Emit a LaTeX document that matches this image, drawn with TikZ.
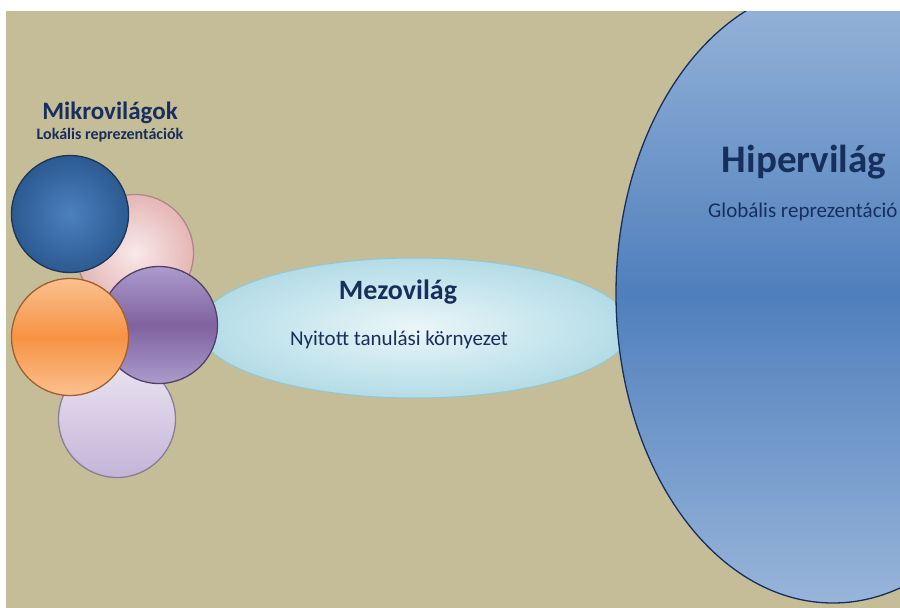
\documentclass[tikz,border=0pt]{standalone}
\usepackage{fontspec}
\setmainfont{Carlito}
\usepackage{tikz}
\usetikzlibrary{positioning, shapes.geometric}

\definecolor{slidebg}{HTML}{C5BD97}
\definecolor{titlenavy}{HTML}{172F5C}
\definecolor{hyperlight}{HTML}{98B5DA}
\definecolor{hypermid}{HTML}{4F7FBC}
\definecolor{mesolight}{HTML}{EAF6F8}
\definecolor{mesoedge}{HTML}{B3DCE7}
\definecolor{bluein}{HTML}{4C80BE}
\definecolor{blueout}{HTML}{2C5A91}
\definecolor{pinkin}{HTML}{F8E9E8}
\definecolor{pinkout}{HTML}{E5B6B5}
\definecolor{purplelight}{HTML}{AC9BCB}
\definecolor{purplemid}{HTML}{7F62A0}
\definecolor{orangelight}{HTML}{FBC08E}
\definecolor{orangemid}{HTML}{F69344}
\definecolor{lavlight}{HTML}{EAE4F1}
\definecolor{lavdark}{HTML}{C3B4D8}
\tikzset{
    world/.style={circle, inner sep=0pt, minimum size=117pt, line width=1.3pt},
    title/.style={text=titlenavy, font=\bfseries, inner sep=0pt},
    subtitle/.style={text=titlenavy, inner sep=0pt}
}

\begin{document}
\begin{tikzpicture}[x=1pt, y=-1pt]
    \useasboundingbox (0,0) rectangle (900,608);
    \fill[white] (0,0) rectangle (900,608);
    \begin{scope}
        \clip (6,11) rectangle (900,608);
        \fill[slidebg] (6,11) rectangle (900,608);

        % meso world
        \node[ellipse, minimum width=432pt, minimum height=140pt, line width=1pt,
              draw=mesoedge!80!teal, inner color=mesolight, outer color=mesoedge]
            (meso) at (415,328) {};

        % hyper world
        \node[ellipse, minimum width=434pt, minimum height=618pt, line width=1.3pt,
              draw=titlenavy, top color=hyperlight, bottom color=hyperlight, middle color=hypermid]
            (hyper) at (833,294) {};

        % micro worlds
        \node[world, draw=lavdark!70!black, shading angle=45,
              top color=lavlight, bottom color=lavdark] (lavender) at (117,419) {};
        \node[world, draw=pinkout!75!black, inner color=pinkin, outer color=pinkout]
            (pink) at (135,253) {};
        \node[world, draw=blueout!60!black, inner color=bluein, outer color=blueout]
            (blue) at (70,214) {};
        \node[world, draw=purplemid!65!black, top color=purplelight, bottom color=purplelight,
              middle color=purplemid] (purple) at (159,325) {};
        \node[world, draw=orangemid!65!black, top color=orangelight, bottom color=orangelight,
              middle color=orangemid] (orange) at (70,337) {};
    \end{scope}

    % labels
    \node[title, font=\bfseries\fontsize{25}{28}\selectfont] (microtitle) at (110,113) {Mikrovilágok};
    \node[title, font=\bfseries\fontsize{16}{18}\selectfont, below=4pt of microtitle] (microsub) {Lokális reprezentációk};
    \node[title, font=\bfseries\fontsize{28}{32}\selectfont] (mesotitle) at (398,292) {Mezovilág};
    \node[subtitle, font=\fontsize{21}{24}\selectfont] (mesosub) at (399,340) {Nyitott tanulási környezet};
    \node[title, font=\bfseries\fontsize{39}{44}\selectfont] (hypertitle) at (804,162) {Hipervilág};
    \node[subtitle, font=\fontsize{21}{24}\selectfont, anchor=west] (hypersub) at (708,212) {Globális reprezentáció};
\end{tikzpicture}
\end{document}
